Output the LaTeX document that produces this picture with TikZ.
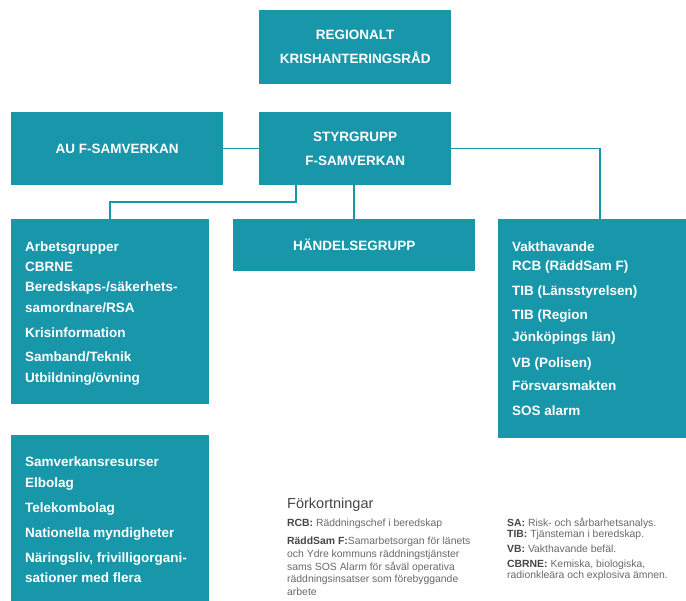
\documentclass[tikz,border=0pt]{standalone}
\usepackage{fontspec}
\setmainfont{Liberation Sans}
\definecolor{tealbox}{RGB}{24,150,170}
\definecolor{txtgray}{RGB}{105,105,105}
\definecolor{lblgray}{RGB}{70,70,70}
\newcommand\fnlabel[1]{{\bfseries\color{lblgray}#1}}
\begin{document}
\begin{tikzpicture}[x=1pt,y=-1pt,
  box/.style={fill=tealbox, draw=none, inner sep=0, anchor=north west, text=white,
              font=\fontsize{13.5}{24}\selectfont\bfseries, align=center},
  conn/.style={draw=tealbox, line width=1.6pt},
  itm/.style={anchor=base west, inner sep=0, text=white, font=\fontsize{13.5}{16}\selectfont\bfseries},
  fn/.style={anchor=base west, inner sep=0, text=txtgray, font=\fontsize{10.4}{12}\selectfont},
]
\useasboundingbox (0,0) rectangle (686,601);
\fill[white] (0,0) rectangle (686,601);
\clip (0,0) rectangle (686,601);

% boxes
\node[box, minimum width=192, minimum height=74] (reg) at (259,10) {REGIONALT\\KRISHANTERINGSRÅD};
\node[box, minimum width=212, minimum height=73] (au) at (11,112) {AU F-SAMVERKAN};
\node[box, minimum width=192, minimum height=73] (styr) at (259,112) {STYRGRUPP\\F-SAMVERKAN};
\node[box, minimum width=198, minimum height=185] (arb) at (11,219) {};
\node[box, minimum width=242, minimum height=52] (hand) at (233,219) {HÄNDELSEGRUPP};
\node[box, minimum width=204, minimum height=219] (vakt) at (498,219) {};
\node[box, minimum width=198, minimum height=180] (samv) at (11,435) {};

% connectors
\draw[conn] (au.east) -- (styr.west);
\draw[conn] (styr.east) -| (vakt.north);
\draw[conn] (hand.north) -- (hand.north |- styr.south);
\coordinate (bend) at (296,202);
\draw[conn] (styr.south -| bend) -- (bend) -| (arb.north);

% Arbetsgrupper box
\node[itm] (a1) at (25,252) {Arbetsgrupper};
\node[itm] (a2) at (25,272) {CBRNE};
\node[itm] (a3) at (25,292) {Beredskaps-/säkerhets-};
\node[itm] (a4) at (25,313) {samordnare/RSA};
\node[itm] (a5) at (25,338) {Krisinformation};
\node[itm] (a6) at (25,362) {Samband/Teknik};
\node[itm] (a7) at (25,383) {Utbildning/övning};

% Vakthavande box
\node[itm] (v1) at (512,252) {Vakthavande};
\node[itm] (v2) at (512,271) {RCB (RäddSam F)};
\node[itm] (v3) at (512,296) {TIB (Länsstyrelsen)};
\node[itm] (v4) at (512,320) {TIB (Region};
\node[itm] (v5) at (512,342) {Jönköpings län)};
\node[itm] (v6) at (512,368) {VB (Polisen)};
\node[itm] (v7) at (512,391) {Försvarsmakten};
\node[itm] (v8) at (512,416) {SOS alarm};

% Samverkansresurser box
\node[itm] (s1) at (25,467) {Samverkansresurser};
\node[itm] (s2) at (25,488) {Elbolag};
\node[itm] (s3) at (25,513) {Telekombolag};
\node[itm] (s4) at (25,538) {Nationella myndigheter};
\node[itm] (s5) at (25,562) {Näringsliv, frivilligorgani-};
\node[itm] (s6) at (25,583) {sationer med flera};

% abbreviations
\node[fn, font=\fontsize{14.5}{16}\selectfont, text=lblgray] (fk) at (287,509) {Förkortningar};
\node[fn] (l1) at (287,527) {\fnlabel{RCB:} Räddningschef i beredskap};
\node[fn] (l2) at (287,545) {\fnlabel{RäddSam F:}Samarbetsorgan för länets};
\node[fn] (l3) at (287,557.5) {och Ydre kommuns räddningstjänster};
\node[fn] (l4) at (287,570) {sams SOS Alarm för såväl operativa};
\node[fn] (l5) at (287,582.5) {räddningsinsatser som förebyggande};
\node[fn] (l6) at (287,595) {arbete};

\node[fn] (r1) at (507,527) {\fnlabel{SA:} Risk- och sårbarhetsanalys.};
\node[fn] (r2) at (507,538) {\fnlabel{TIB:} Tjänsteman i beredskap.};
\node[fn] (r3) at (507,553) {\fnlabel{VB:} Vakthavande befäl.};
\node[fn] (r4) at (507,568) {\fnlabel{CBRNE:} Kemiska, biologiska,};
\node[fn] (r5) at (507,579) {radionkleära och explosiva ämnen.};
\end{tikzpicture}
\end{document}
